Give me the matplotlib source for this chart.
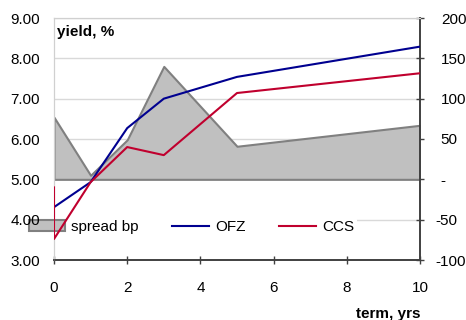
import matplotlib
matplotlib.use("Agg")
import matplotlib.pyplot as plt
from matplotlib.patches import Patch
from matplotlib.lines import Line2D
from matplotlib.ticker import FuncFormatter
from matplotlib.transforms import ScaledTranslation

plt.rcParams['font.family'] = ['Liberation Sans', 'DejaVu Sans']

# Data
spread_x = [0, 1, 2, 3, 5, 10]
spread_bp = [77, 5, 49, 140, 41, 67]
ofz_x = [0, 1, 2, 3, 5, 10]
ofz = [4.31, 4.93, 6.27, 7.00, 7.54, 8.29]
ccs_x = [0, 0, 1, 2, 3, 5, 10]
ccs = [4.80, 3.52, 4.93, 5.80, 5.60, 7.14, 7.63]

left_ticks = [3, 4, 5, 6, 7, 8, 9]
right_ticks = [-100, -50, 0, 50, 100, 150, 200]
x_ticks = [0, 2, 4, 6, 8, 10]

fig = plt.figure(figsize=(4.66, 3.2), dpi=100)
ax1 = fig.add_axes([54/466, 1-260/320, 366/466, 242/320])
ax2 = ax1.twinx()
ax1.set_zorder(ax2.get_zorder() + 1)
ax1.patch.set_visible(False)

fs = 11
# Spread area on right axis
ax2.fill_between(spread_x, 0, spread_bp, facecolor='#c0c0c0', edgecolor='#808080',
                 linewidth=1.5, zorder=2)
ax2.set_ylim(-100, 200)
ax2.set_yticks(right_ticks)
ax2.yaxis.set_major_formatter(FuncFormatter(lambda v, p: '-' if v == 0 else f'{int(v)}'))
ax2.tick_params(axis='y', direction='inout', length=6, width=1, color='#404040',
                labelsize=fs, pad=12)
ax2.grid(True, color='#d9d9d9', linewidth=1, zorder=0)
ax2.set_axisbelow(True)

# Lines on left axis
ax1.plot(ofz_x, ofz, color='#000090', linewidth=1.5, label='OFZ', zorder=3)
ax1.plot(ccs_x, ccs, color='#C0002E', linewidth=1.5, label='CCS', zorder=3)
ax1.set_ylim(3, 9)
ax1.set_xlim(0, 10)
ax1.set_yticks(left_ticks)
ax1.yaxis.set_major_formatter(FuncFormatter(lambda v, p: f'{v:.2f}'))
ax1.set_xticks(x_ticks)
ax1.tick_params(axis='y', length=0, labelsize=fs, pad=10)
ax1.tick_params(axis='x', direction='inout', length=6, width=1, color='#404040',
                labelsize=fs, pad=12)
ax2.tick_params(axis='x', length=0)

for ax in (ax1, ax2):
    ax.spines['left'].set_color('#d0d0d0')
    ax.spines['top'].set_color('#d0d0d0')
    ax.spines['bottom'].set_color('#404040')
    ax.spines['right'].set_color('#404040')
    ax.spines['bottom'].set_linewidth(1.2)
    ax.spines['right'].set_linewidth(1.2)

# shift negative right-axis labels left (accounting-style alignment)
fig.canvas.draw()
for tick, val in zip(ax2.yaxis.get_major_ticks(), right_ticks):
    if val < 0:
        tick.label2.set_transform(tick.label2.get_transform() +
                                  ScaledTranslation(-5/100, 0, fig.dpi_scale_trans))

ax1.text(3/366, 0.972, 'yield, %', transform=ax1.transAxes, fontsize=fs,
         fontweight='bold', ha='left', va='top')
fig.text(420/466, (320-307)/320, 'term, yrs', fontsize=fs, fontweight='bold',
         ha='right', va='top')

handles = [Patch(facecolor='#c0c0c0', edgecolor='#808080', linewidth=1.5),
           Line2D([], [], color='#000090', linewidth=1.5),
           Line2D([], [], color='#C0002E', linewidth=1.5)]
labels = ['spread bp', 'OFZ', 'CCS']
leg = ax2.legend(handles, labels, loc='center left', ncol=3,
                 bbox_to_anchor=(-0.078, 0.136), fontsize=fs, frameon=True,
                 facecolor='white', edgecolor='none', framealpha=1,
                 handlelength=2.4, handleheight=0.7, handletextpad=0.4,
                 columnspacing=2.2, borderpad=0.2, borderaxespad=0)
leg.get_frame().set_linewidth(0)
leg.set_zorder(5)

fig.savefig('out.png', dpi=100)
